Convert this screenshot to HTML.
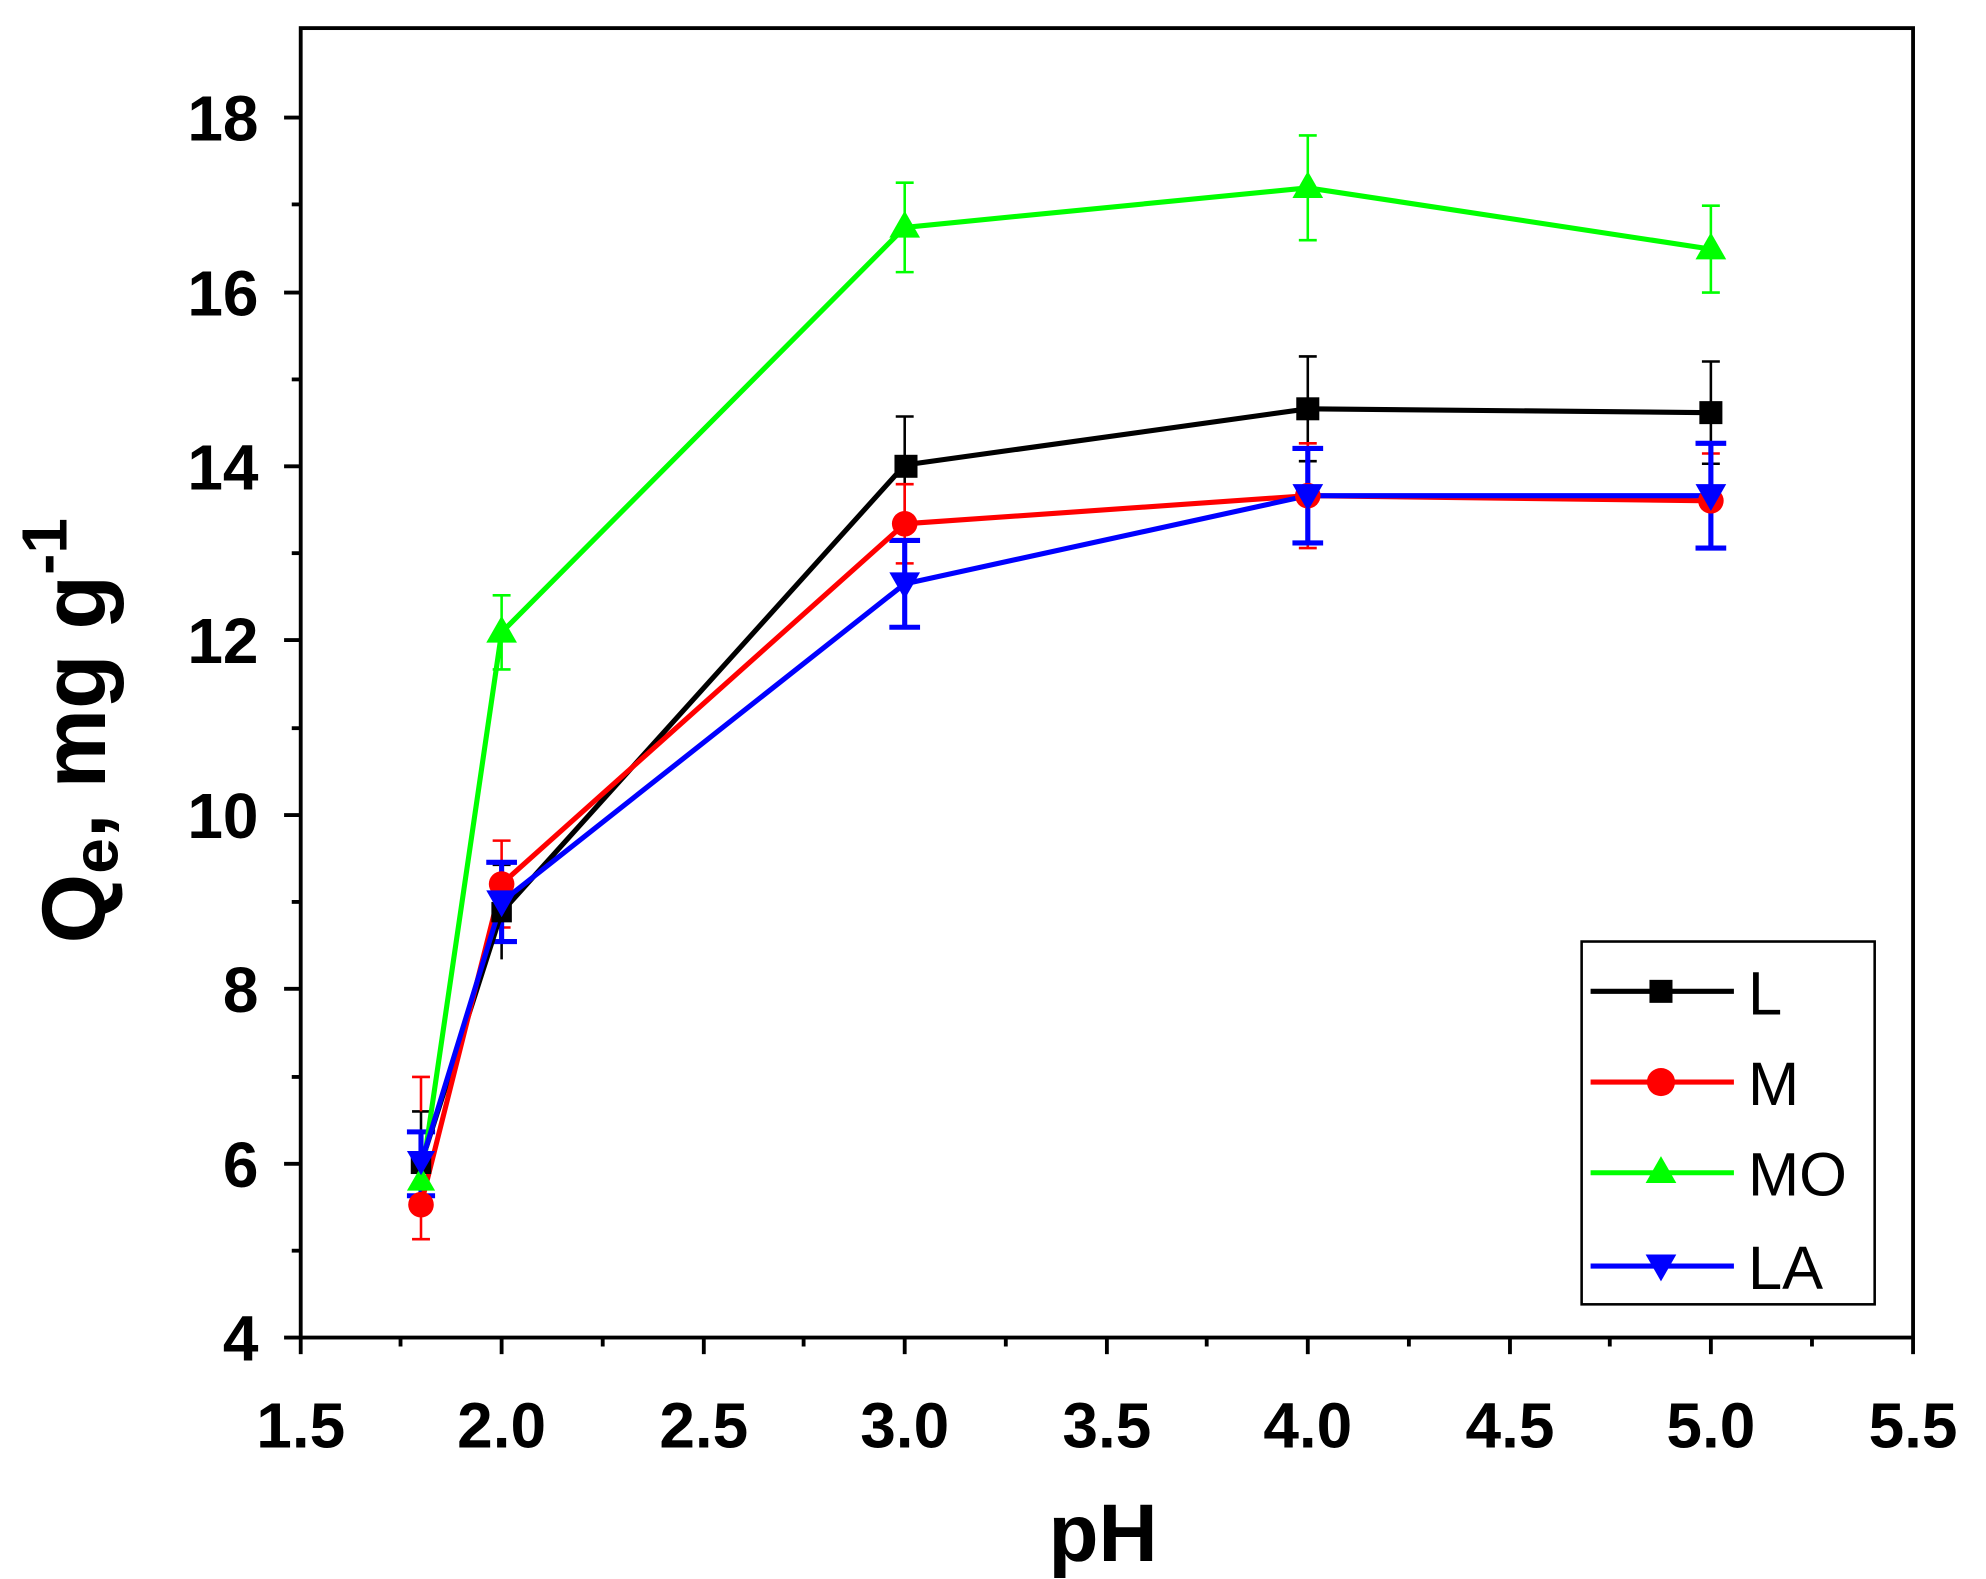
<!DOCTYPE html>
<html><head><style>html,body{margin:0;padding:0;background:#fff}svg{display:block}</style></head>
<body>
<svg width="1986" height="1579" viewBox="0 0 1552 1236" preserveAspectRatio="none" xmlns="http://www.w3.org/2000/svg" font-family="Liberation Sans, Arial, sans-serif" font-weight="bold">
<rect width="1552" height="1236" fill="#fff"/>
<rect x="235" y="22" width="1260" height="1025" fill="none" stroke="#000" stroke-width="3"/>
<g stroke="#000" stroke-width="3">
<line x1="235" y1="1047" x2="235" y2="1060"/><line x1="392" y1="1047" x2="392" y2="1060"/><line x1="550" y1="1047" x2="550" y2="1060"/><line x1="707" y1="1047" x2="707" y2="1060"/><line x1="865" y1="1047" x2="865" y2="1060"/><line x1="1022" y1="1047" x2="1022" y2="1060"/><line x1="1180" y1="1047" x2="1180" y2="1060"/><line x1="1337" y1="1047" x2="1337" y2="1060"/><line x1="1495" y1="1047" x2="1495" y2="1060"/>
<line x1="313" y1="1047" x2="313" y2="1054"/><line x1="471" y1="1047" x2="471" y2="1054"/><line x1="628" y1="1047" x2="628" y2="1054"/><line x1="786" y1="1047" x2="786" y2="1054"/><line x1="943" y1="1047" x2="943" y2="1054"/><line x1="1101" y1="1047" x2="1101" y2="1054"/><line x1="1258" y1="1047" x2="1258" y2="1054"/><line x1="1416" y1="1047" x2="1416" y2="1054"/>
<line x1="222" y1="1047" x2="235" y2="1047"/><line x1="222" y1="911" x2="235" y2="911"/><line x1="222" y1="774" x2="235" y2="774"/><line x1="222" y1="638" x2="235" y2="638"/><line x1="222" y1="501" x2="235" y2="501"/><line x1="222" y1="365" x2="235" y2="365"/><line x1="222" y1="229" x2="235" y2="229"/><line x1="222" y1="92" x2="235" y2="92"/>
<line x1="228" y1="979" x2="235" y2="979"/><line x1="228" y1="843" x2="235" y2="843"/><line x1="228" y1="706" x2="235" y2="706"/><line x1="228" y1="570" x2="235" y2="570"/><line x1="228" y1="433" x2="235" y2="433"/><line x1="228" y1="297" x2="235" y2="297"/><line x1="228" y1="160" x2="235" y2="160"/>
</g>
<g font-size="50" text-anchor="end">
<text x="202" y="1065">4</text><text x="202" y="929">6</text><text x="202" y="792">8</text><text x="202" y="656">10</text><text x="202" y="519">12</text><text x="202" y="383">14</text><text x="202" y="247">16</text><text x="202" y="110">18</text>
</g>
<g font-size="50" text-anchor="middle">
<text x="235" y="1133">1.5</text><text x="392" y="1133">2.0</text><text x="550" y="1133">2.5</text><text x="707" y="1133">3.0</text><text x="865" y="1133">3.5</text><text x="1022" y="1133">4.0</text><text x="1180" y="1133">4.5</text><text x="1337" y="1133">5.0</text><text x="1495" y="1133">5.5</text>
</g>
<text x="862" y="1222" font-size="64" text-anchor="middle">pH</text>
<text transform="translate(82,572) rotate(-90)" font-size="70" text-anchor="middle">Q<tspan font-size="50" dy="10">e</tspan><tspan dy="-10">, mg g</tspan><tspan font-size="50" dy="-30">-1</tspan></text>
<g stroke="#000" stroke-width="2" fill="none">
<path d="M329,897v-27M322,870h14M392,714v-37M385,677h14M707,364v-38M700,326h14M1022,320v-41M1015,279h14M1337,323v-40M1330,283h14"/>
<path d="M329,911v27M322,938h14M392,714v37M707,364v38M1022,320v41M1015,361h14M1337,323v40M1330,363h14"/>
</g>
<g stroke="#f00" stroke-width="2" fill="none">
<path d="M329,870v-27M322,843h14M329,943v27M322,970h14M392,692v-34M385,658h14M392,692v34M385,726h14M707,410v-31M700,379h14M707,410v31M700,441h14M1022,388v-41M1015,347h14M1022,388v41M1015,429h14M1337,392v-37M1330,355h14M1337,392v37M1330,429h14"/>
</g>
<g stroke="#0f0" stroke-width="2" fill="none">
<path d="M329,925v-20M322,905h14M392,495v-29M385,466h14M392,495v29M385,524h14M707,178v-35M700,143h14M707,178v35M700,213h14M1022,147v-41M1015,106h14M1022,147v41M1015,188h14M1337,195v-34M1330,161h14M1337,195v34M1330,229h14"/>
</g>
<g stroke="#00f" stroke-width="4" fill="none">
<path d="M329,911v-25M318,886h22M329,911v25M318,936h22M392,706v-31M380,675h24M392,706v31M380,737h24M707,457v-34M695,423h24M707,457v34M695,491h24M1022,388v-37M1010,351h24M1022,388v37M1010,425h24M1337,388v-41M1325,347h24M1337,388v41M1325,429h24"/>
</g>
<polyline points="329,911 392,714 707,364 1022,320 1337,323" fill="none" stroke="#000" stroke-width="4"/>
<polyline points="329,943 392,692 707,410 1022,388 1337,392" fill="none" stroke="#f00" stroke-width="4"/>
<polyline points="329,925 392,495 707,178 1022,147 1337,195" fill="none" stroke="#0f0" stroke-width="4"/>
<polyline points="329,911 392,706 707,457 1022,388 1337,388" fill="none" stroke="#00f" stroke-width="4"/>
<g fill="#000"><rect x="321" y="903" width="16" height="16"/><rect x="384" y="706" width="16" height="16"/><rect x="699" y="356" width="18" height="18"/><rect x="1013" y="311" width="18" height="18"/><rect x="1328" y="314" width="18" height="18"/></g>
<g fill="#f00"><circle cx="329" cy="943" r="10"/><circle cx="392" cy="692" r="10"/><circle cx="707" cy="410" r="10"/><circle cx="1022" cy="388" r="10"/><circle cx="1337" cy="392" r="10"/></g>
<g fill="#0f0"><path d="M329,913l11,19h-22z"/><path d="M392,482l12,21h-24z"/><path d="M707,165l12,21h-24z"/><path d="M1022,134l12,21h-24z"/><path d="M1337,182l12,21h-24z"/></g>
<g fill="#00f"><path d="M329,920l11,-19h-22z"/><path d="M392,718l12,-21h-24z"/><path d="M707,469l12,-21h-24z"/><path d="M1022,400l12,-21h-24z"/><path d="M1337,400l12,-21h-24z"/></g>
<rect x="1236" y="737" width="229" height="284" fill="#fff" stroke="#000" stroke-width="2"/>
<line x1="1243" y1="776" x2="1355" y2="776" stroke="#000" stroke-width="4"/><rect x="1289" y="767" width="18" height="18" fill="#000"/>
<line x1="1243" y1="847" x2="1355" y2="847" stroke="#f00" stroke-width="4"/><circle cx="1298" cy="847" r="11" fill="#f00"/>
<line x1="1243" y1="918" x2="1355" y2="918" stroke="#0f0" stroke-width="4"/><path d="M1298,905l12,21h-24z" fill="#0f0"/>
<line x1="1243" y1="991" x2="1355" y2="991" stroke="#00f" stroke-width="4"/><path d="M1298,1003l12,-21h-24z" fill="#00f"/>
<g font-size="48" font-weight="normal"><text x="1366" y="794">L</text><text x="1366" y="865">M</text><text x="1366" y="936">MO</text><text x="1366" y="1009">LA</text></g>
</svg>
</body></html>
